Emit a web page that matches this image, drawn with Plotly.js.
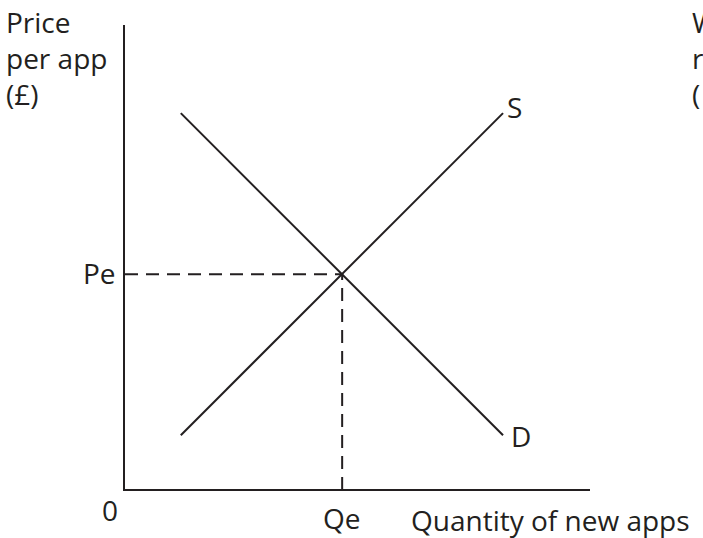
<!DOCTYPE html>
<html>
<head>
<meta charset="utf-8">
<script src="https://cdn.plot.ly/plotly-3.0.1.min.js"></script>
<style>html,body{margin:0;padding:0;background:#fff;overflow:hidden}</style>
</head>
<body>
<div id="chart" style="width:703px;height:538px"></div>
<script>
// Quantity / price coordinates (arbitrary units, axis 0..10)
const demandQ = [1.2, 8.13];
const demandP = [8.1, 1.16];
const supplyQ = [1.2, 8.13];
const supplyP = [1.16, 8.1];
const Qe = 4.67;
const Pe = 4.63;
const curveLabels = ["S", "D"];
const yTitleLines = ["Price", "per app", "(£)"];
const rightTitleLines = ["W", "r", "("];
const xTitle = "Quantity of new apps";

const ink = "#231f20";
const font = {family: "Open Sans, Noto Sans, sans-serif", size: 28, color: ink};

const traces = [
  {x: demandQ, y: demandP, mode: "lines", line: {color: ink, width: 2}, hoverinfo: "skip"},
  {x: supplyQ, y: supplyP, mode: "lines", line: {color: ink, width: 2}, hoverinfo: "skip"},
  {x: [0, Qe, Qe], y: [Pe, Pe, 0], mode: "lines",
   line: {color: ink, width: 2, dash: "13px,8px"}, hoverinfo: "skip"}
];

const ann = [];
// S and D labels at line ends
ann.push({x: supplyQ[1], y: supplyP[1], text: curveLabels[0], showarrow: false,
  xanchor: "left", yanchor: "middle", xshift: 2, yshift: 6, font});
ann.push({x: demandQ[1], y: demandP[1], text: curveLabels[1], showarrow: false,
  xanchor: "left", yanchor: "middle", xshift: 6, yshift: -1, font});
// Pe / Qe / 0
ann.push({x: 0, y: Pe, text: "Pe", showarrow: false, xanchor: "right", yanchor: "middle",
  xshift: -7, yshift: 1, font});
ann.push({x: Qe, y: 0, text: "Qe", showarrow: false, xanchor: "center", yanchor: "top",
  yshift: -8, font});
ann.push({x: 0, y: 0, text: "0", showarrow: false, xanchor: "right", yanchor: "top",
  xshift: -5, yshift: 0, font});
// y title lines (top-left)
yTitleLines.forEach((t, i) => ann.push({xref: "paper", yref: "paper", x: (4-125)/465, y: 1 + (3 - 36*i)/464,
  text: t, showarrow: false, xanchor: "left", yanchor: "middle", font}));
// right title (cut off at edge)
rightTitleLines.forEach((t, i) => ann.push({xref: "paper", yref: "paper", x: (690-125)/465, y: 1 + (3 - 36*i)/464,
  text: t, showarrow: false, xanchor: "left", yanchor: "middle", font}));
// x title
ann.push({xref: "paper", yref: "paper", x: (409-125)/465, y: -31/464, text: xTitle,
  showarrow: false, xanchor: "left", yanchor: "middle", font});

const layout = {
  width: 703, height: 538,
  margin: {l: 125, r: 113, t: 25, b: 49},
  paper_bgcolor: "#fff", plot_bgcolor: "#fff",
  showlegend: false,
  xaxis: {range: [0, 10], showgrid: false, zeroline: false, showticklabels: false, ticks: "",
    showline: true, linecolor: ink, linewidth: 2, fixedrange: true},
  yaxis: {range: [0, 10], showgrid: false, zeroline: false, showticklabels: false, ticks: "",
    showline: true, linecolor: ink, linewidth: 2, fixedrange: true},
  annotations: ann,
  font
};

Plotly.newPlot("chart", traces, layout, {displayModeBar: false, staticPlot: true});
</script>
</body>
</html>
